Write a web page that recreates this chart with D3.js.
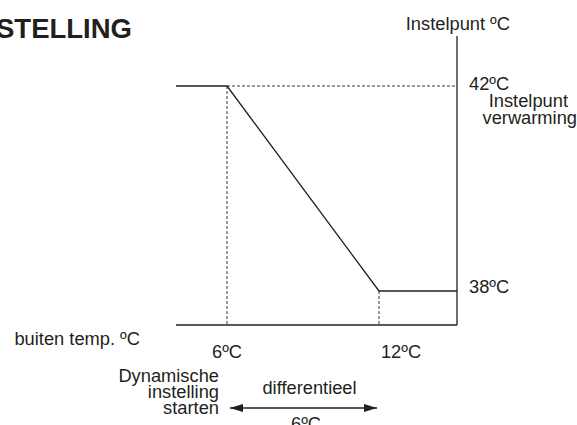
<!DOCTYPE html>
<html>
<head>
<meta charset="utf-8">
<script src="https://cdn.jsdelivr.net/npm/d3@7"></script>
<style>
  body { margin: 0; background: #fff; }
  svg { display: block; font-family: "Liberation Sans", Arial, sans-serif; }
  text { fill: #231f20; }
</style>
</head>
<body>
<div id="chart"></div>
<script>
var width = 577;
var height = 425;

// outside temperature (ºC) -> setpoint (ºC)
var outsideTemps = [-1, 6, 12, 17];
var setpoints = [42, 42, 38, 38];
var tickTemps = [6, 12];
var tickLabels = ['6ºC', '12ºC'];
var setpointTicks = [42, 38];
var setpointLabels = ['42ºC', '38ºC'];
var startTemp = 6;
var differential = 6;

var x = d3.scaleLinear().domain([6, 12]).range([227, 379]);
var y = d3.scaleLinear().domain([38, 42]).range([291, 86]);

var axisX = 457;
var axisY = 325;
var axisLeft = 176;
var axisTop = 36;
var ink = '#231f20';
var fs = 18.3;

var svg = d3.select('#chart')
        .append('svg')
            .attr('width', width)
            .attr('height', height);

// title (cut off at the left edge like the source)
svg.append('text')
    .attr('x', -4).attr('y', 38)
    .attr('font-size', 27.5).attr('font-weight', 'bold')
    .text('STELLING');

// axes
svg.append('line')
    .attr('x1', axisX).attr('x2', axisX)
    .attr('y1', axisTop).attr('y2', axisY)
    .attr('stroke', ink).attr('stroke-width', 1.3);
svg.append('line')
    .attr('x1', axisLeft).attr('x2', axisX)
    .attr('y1', axisY).attr('y2', axisY)
    .attr('stroke', ink).attr('stroke-width', 1.3);

// dashed guides
svg.append('line')
    .attr('x1', x(startTemp)).attr('x2', axisX)
    .attr('y1', y(42)).attr('y2', y(42))
    .attr('stroke', ink).attr('stroke-width', 0.9).attr('stroke-dasharray', '3,2');
svg.selectAll('.guide')
    .data(tickTemps)
    .enter().append('line')
    .attr('class', 'guide')
    .attr('x1', d => x(d)).attr('x2', d => x(d))
    .attr('y1', (d, i) => y(setpoints[i + 1])).attr('y2', axisY)
    .attr('stroke', ink).attr('stroke-width', 0.9).attr('stroke-dasharray', '3,2');

// setpoint curve
var line = d3.line()
    .x(d => Math.max(axisLeft, Math.min(axisX, x(d[0]))))
    .y(d => y(d[1]));
svg.append('path')
    .attr('d', line(d3.zip(outsideTemps, setpoints)))
    .attr('fill', 'none').attr('stroke', ink).attr('stroke-width', 1.3);

// axis titles
svg.append('text')
    .attr('x', 510).attr('y', 30).attr('text-anchor', 'end')
    .attr('font-size', fs).text('Instelpunt ºC');
svg.append('text')
    .attr('x', 140).attr('y', 345).attr('text-anchor', 'end')
    .attr('font-size', fs).text('buiten temp. ºC');

// y labels
svg.selectAll('.ylab')
    .data(setpointTicks)
    .enter().append('text')
    .attr('class', 'ylab')
    .attr('x', axisX + 12)
    .attr('y', (d, i) => y(d) + (i === 0 ? 4 : 2))
    .attr('font-size', fs)
    .text((d, i) => setpointLabels[i]);
svg.append('text')
    .attr('x', 568).attr('y', 107).attr('text-anchor', 'end')
    .attr('font-size', fs).text('Instelpunt');
svg.append('text')
    .attr('x', 577).attr('y', 124).attr('text-anchor', 'end')
    .attr('font-size', fs).text('verwarming');

// x labels
svg.selectAll('.xlab')
    .data(tickTemps)
    .enter().append('text')
    .attr('class', 'xlab')
    .attr('x', (d, i) => i === 0 ? x(d) : x(d) + 22)
    .attr('y', 358)
    .attr('text-anchor', 'middle')
    .attr('font-size', fs)
    .text((d, i) => tickLabels[i]);

// dynamic start note
['Dynamische', 'instelling', 'starten'].forEach(function(t, i) {
  svg.append('text')
      .attr('x', 219).attr('y', 382 + i * 16)
      .attr('text-anchor', 'end')
      .attr('font-size', fs).text(t);
});

// differential arrow
var defs = svg.append('defs');
defs.append('marker')
    .attr('id', 'head')
    .attr('viewBox', '0 0 13 8')
    .attr('refX', 13).attr('refY', 4)
    .attr('markerWidth', 13).attr('markerHeight', 8)
    .attr('markerUnits', 'userSpaceOnUse')
    .attr('orient', 'auto-start-reverse')
    .append('path').attr('d', 'M0,0L13,4L0,8Z').attr('fill', ink);

var arrowY = 408;
svg.append('line')
    .attr('x1', x(startTemp) + 3).attr('x2', x(startTemp + differential) - 2)
    .attr('y1', arrowY).attr('y2', arrowY)
    .attr('stroke', ink).attr('stroke-width', 1.3)
    .attr('marker-start', 'url(#head)').attr('marker-end', 'url(#head)');

svg.append('text')
    .attr('x', 309.5).attr('y', 394).attr('text-anchor', 'middle')
    .attr('font-size', fs).text('differentieel');
svg.append('text')
    .attr('x', 306).attr('y', 430).attr('text-anchor', 'middle')
    .attr('font-size', fs).text(differential + 'ºC');
</script>
</body>
</html>
